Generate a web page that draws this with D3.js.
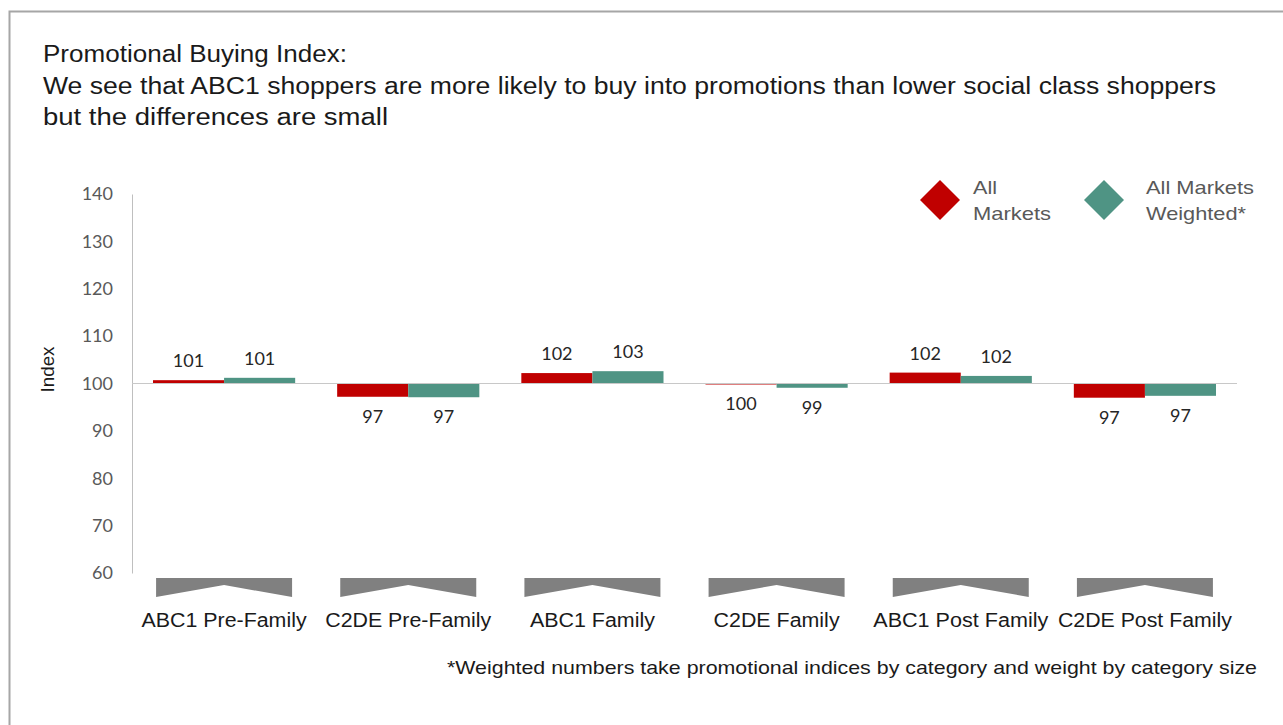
<!DOCTYPE html>
<html>
<head>
<meta charset="utf-8">
<script src="https://cdn.jsdelivr.net/npm/d3@7"></script>
<style>
  body { margin: 0; background: #fff; }
  svg { display: block; font-family: "Liberation Sans", Arial, sans-serif; }
</style>
</head>
<body>
<svg id="chart" width="1283" height="725"></svg>
<script>
const categories = ['ABC1 Pre-Family', 'C2DE Pre-Family', 'ABC1 Family', 'C2DE Family', 'ABC1 Post Family', 'C2DE Post Family'];
const seriesNames = ['All Markets', 'All Markets Weighted*'];
const allMarkets = [100.7, 97.2, 102.2, 99.9, 102.3, 97.0];
const allMarketsWeighted = [101.2, 97.1, 102.6, 99.1, 101.6, 97.4];
const yTicks = [60, 70, 80, 90, 100, 110, 120, 130, 140];
const titleLines = [
  'Promotional Buying Index:',
  'We see that ABC1 shoppers are more likely to buy into promotions than lower social class shoppers',
  'but the differences are small'
];
const footnote = '*Weighted numbers take promotional indices by category and weight by category size';

const colors = ['#c00000', '#4f9484'];
const svg = d3.select('#chart');

// the source picture is a bit stretched sideways, so text is fitted to its width
function fit(sel, w) {
  sel.attr('textLength', w).attr('lengthAdjust', 'spacingAndGlyphs');
}

// outer frame
svg.append('rect').attr('x', 9.5).attr('y', 11.5).attr('width', 1290).attr('height', 730)
  .attr('fill', 'none').attr('stroke', '#a6a6a6').attr('stroke-width', 2);

// title
const titleWidths = [304, 1173, 345];
titleLines.forEach((line, i) => {
  svg.append('text').attr('x', 43).attr('y', 62 + i * 31.5)
    .attr('font-size', 23).attr('fill', '#1a1a1a').text(line)
    .call(fit, titleWidths[i]);
});

const x0 = d3.scaleBand().domain(categories).range([132, 1237]).paddingInner(0.228).paddingOuter(0.114);
const x1 = d3.scaleBand().domain(seriesNames).range([0, x0.bandwidth()]);
const y = d3.scaleLinear().domain([60, 140]).range([573, 194]);

// y axis
const yAxis = svg.append('g').attr('transform', 'translate(132,0)')
  .call(d3.axisLeft(y).tickValues(yTicks).tickSize(0).tickPadding(19));
yAxis.select('.domain').attr('stroke', '#bfbfbf');
yAxis.selectAll('text').attr('font-family', 'Lato, sans-serif').attr('font-size', 18).attr('fill', '#595959');

svg.append('text').attr('transform', 'translate(54,' + (y(100) - 14) + ') rotate(-90)')
  .attr('text-anchor', 'middle').attr('font-size', 19).attr('fill', '#1a1a1a').text('Index')
  .call(fit, 46);

// bars
const rows = categories.map((c, i) => ({ cat: c, vals: [allMarkets[i], allMarketsWeighted[i]] }));
const groups = svg.append('g').selectAll('g').data(rows).join('g')
  .attr('transform', d => 'translate(' + x0(d.cat) + ',0)');

groups.selectAll('rect').data(d => d.vals.map((v, j) => ({ v, s: seriesNames[j], j }))).join('rect')
  .attr('x', d => x1(d.s))
  .attr('y', d => Math.min(y(d.v), y(100)))
  .attr('width', x1.bandwidth())
  .attr('height', d => Math.max(1, Math.abs(y(d.v) - y(100))))
  .attr('fill', d => colors[d.j]);

// baseline at 100
svg.append('line').attr('x1', 132).attr('x2', 1237).attr('y1', y(100)).attr('y2', y(100))
  .attr('stroke', '#c8c8c8').attr('stroke-width', 1.2);

groups.selectAll('text.lbl').data(d => d.vals.map((v, j) => ({ v, s: seriesNames[j], j }))).join('text')
  .attr('class', 'lbl')
  .attr('x', d => x1(d.s) + x1.bandwidth() / 2)
  .attr('y', d => d.v >= 100 ? y(d.v) - 13 : y(d.v) + 26)
  .attr('text-anchor', 'middle').attr('font-family', 'Lato, sans-serif').attr('font-size', 18).attr('fill', '#262626')
  .text(d => Math.round(d.v));

// grey chevron shapes under each category
svg.append('g').selectAll('path').data(categories).join('path')
  .attr('d', c => {
    const cx = x0(c) + x0.bandwidth() / 2, hw = 68;
    return `M${cx - hw},578 L${cx + hw},578 L${cx + hw},597 L${cx},585 L${cx - hw},597 Z`;
  })
  .attr('fill', '#808080');

// category labels
const catWidths = [165, 166, 125, 126, 175, 174];
svg.append('g').selectAll('text').data(categories).join('text')
  .attr('x', c => x0(c) + x0.bandwidth() / 2).attr('y', 627)
  .attr('text-anchor', 'middle').attr('font-size', 20).attr('fill', '#1a1a1a')
  .text(c => c)
  .each(function (c, i) { d3.select(this).call(fit, catWidths[i]); });

// legend
const legend = [
  { cx: 940, tx: 973, lines: ['All', 'Markets'], widths: [24, 78] },
  { cx: 1104, tx: 1146, lines: ['All Markets', 'Weighted*'], widths: [108, 100] }
];
legend.forEach((l, i) => {
  svg.append('path').attr('d', `M${l.cx},180 L${l.cx + 20},200 L${l.cx},220 L${l.cx - 20},200 Z`)
    .attr('fill', colors[i]);
  l.lines.forEach((s, k) => {
    svg.append('text').attr('x', l.tx).attr('y', 194 + k * 26).attr('font-size', 19)
      .attr('fill', '#595959').text(s).call(fit, l.widths[k]);
  });
});

svg.append('text').attr('x', 447).attr('y', 674)
  .attr('font-size', 19).attr('fill', '#1a1a1a').text(footnote).call(fit, 810);
</script>
</body>
</html>
